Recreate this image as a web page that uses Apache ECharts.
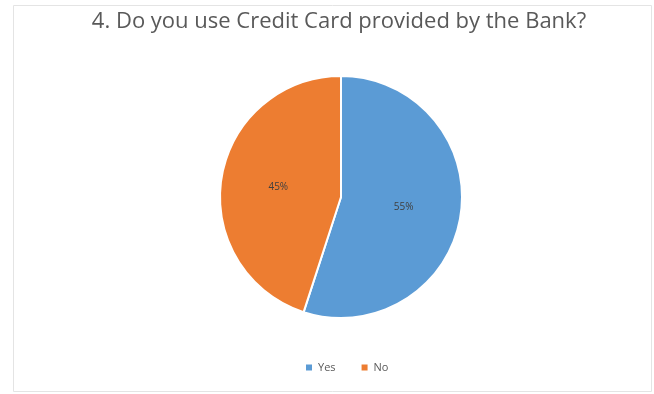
<!DOCTYPE html>
<html>
<head>
<meta charset="utf-8">
<script src="https://cdn.jsdelivr.net/npm/echarts@6/dist/echarts.min.js"></script>
<style>
  html, body { margin: 0; padding: 0; background: #fff; }
  #chart { width: 654px; height: 394px; }
</style>
</head>
<body>
<div id="chart"></div>
<script>
// Survey answers for question 4
const categories = ['Yes', 'No'];
const shares = [55, 45];
const colors = ['#5B9BD5', '#ED7D31'];
const titleText = '4. Do you use Credit Card provided by the Bank?';

const chart = echarts.init(document.getElementById('chart'));

chart.setOption({
  animation: false,
  backgroundColor: '#ffffff',
  color: colors,
  graphic: [{
    type: 'rect',
    shape: { x: 13.5, y: 5.5, width: 638, height: 386 },
    style: { fill: 'none', stroke: '#e4e4e4', lineWidth: 1 },
    silent: true
  }],
  title: {
    text: titleText,
    left: 334,
    textAlign: 'center',
    top: 6,
    textStyle: {
      fontFamily: 'Open Sans',
      fontSize: 22,
      fontWeight: 'normal',
      color: '#595959'
    }
  },
  legend: {
    bottom: 16,
    left: 299,
    itemWidth: 8,
    itemHeight: 8,
    itemGap: 24,
    icon: 'rect',
    textStyle: { fontFamily: 'Open Sans', fontSize: 11, color: '#595959' },
    data: categories
  },
  series: [{
    type: 'pie',
    center: [341, 197],
    radius: 121,
    startAngle: 90,
    clockwise: true,
    itemStyle: { borderColor: '#ffffff', borderWidth: 2 },
    label: {
      show: true,
      position: 'inside',
      formatter: '{c}%',
      fontFamily: 'Open Sans',
      fontSize: 10,
      color: '#404040'
    },
    labelLine: { show: false },
    data: categories.map((name, i) => ({ name: name, value: shares[i] }))
  }]
});
</script>
</body>
</html>
